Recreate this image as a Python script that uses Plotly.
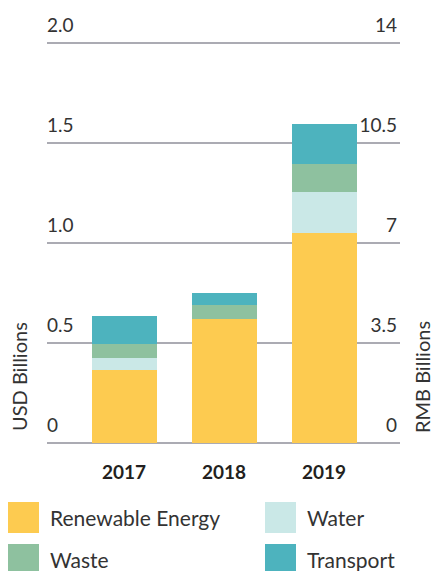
import plotly.graph_objects as go

# data (USD billions)
years = ["2017", "2018", "2019"]
renewable = [0.365, 0.62, 1.05]
water = [0.06, 0.0, 0.205]
waste = [0.072, 0.07, 0.14]
transport = [0.138, 0.058, 0.2]

series_names = ["Renewable Energy", "Water", "Waste", "Transport"]
series_colors = ["#FDCB50", "#CAE8E7", "#8EC19F", "#4DB3BE"]
usd_ticks = [0, 0.5, 1.0, 1.5, 2.0]
usd_labels = ["0", "0.5", "1.0", "1.5", "2.0"]
rmb_ticks = [0, 3.5, 7, 10.5, 14]
rmb_labels = ["0", "3.5", "7", "10.5", "14"]
usd_to_rmb = 7

W, H = 433, 571
Y_TOP = 2.15  # a bit of headroom so the "2.0" label isn't hidden
L = 47
R = W - 400
B = H - 443
PH = int(Y_TOP * 200)
T = H - B - PH
PW = W - L - R

FONT = "Lato"
TXT = "#333333"


def paper_x(px):
    return (px - L) / PW


def paper_y(py):
    return (H - B - py) / PH


fig = go.Figure()

for name, vals, col in zip(series_names, [renewable, water, waste, transport], series_colors):
    fig.add_trace(go.Bar(
        x=years, y=vals, name=name,
        marker=dict(color=col, line=dict(width=0)),
        width=0.65, showlegend=False,
    ))

# invisible trace so the RMB axis gets drawn
totals = [a + b + c + d for a, b, c, d in zip(renewable, water, waste, transport)]
fig.add_trace(go.Scatter(
    x=years, y=[t * usd_to_rmb for t in totals], yaxis="y2",
    mode="markers", marker=dict(opacity=0), hoverinfo="skip", showlegend=False,
))

# legend, drawn by hand to get the big swatches
legend_pos = [(8, 502), (265, 502), (8, 544), (265, 544)]
for (x0, y0), name, col in zip(legend_pos, series_names, series_colors):
    fig.add_shape(type="rect", xref="paper", yref="paper",
                  x0=paper_x(x0), x1=paper_x(x0 + 31),
                  y0=paper_y(y0), y1=paper_y(y0 + 31),
                  fillcolor=col, line=dict(width=0), layer="above")
    fig.add_annotation(text=name, xref="paper", yref="paper",
                       x=paper_x(x0 + 40), y=paper_y(y0 + 15),
                       xanchor="left", yanchor="middle", showarrow=False,
                       font=dict(family=FONT, size=21, color=TXT))

fig.add_annotation(text="USD Billions", xref="paper", yref="paper",
                   x=paper_x(19), y=paper_y(377), textangle=-90,
                   xanchor="center", yanchor="middle", showarrow=False,
                   font=dict(family=FONT, size=20, color=TXT))
fig.add_annotation(text="RMB Billions", xref="paper", yref="paper",
                   x=paper_x(422), y=paper_y(377), textangle=-90,
                   xanchor="center", yanchor="middle", showarrow=False,
                   font=dict(family=FONT, size=20, color=TXT))

fig.update_layout(
    width=W, height=H,
    margin=dict(l=L, r=R, t=T, b=B),
    barmode="stack",
    plot_bgcolor="white", paper_bgcolor="white",
    xaxis=dict(
        type="category", range=[-0.77, 2.76],
        showgrid=False, showline=False, zeroline=False, ticks="",
        tickfont=dict(family=FONT, size=19, color="#231F20", weight="bold"),
        ticklabelstandoff=16,
    ),
    yaxis=dict(
        range=[0, Y_TOP], tickvals=usd_ticks, ticktext=usd_labels,
        showgrid=True, gridcolor="#ABABB3", gridwidth=1.5,
        zeroline=True, zerolinecolor="#ABABB3", zerolinewidth=1.5,
        showline=False, ticks="",
        ticklabelposition="inside top", ticklabelstandoff=-3, ticklabelshift=-4,
        tickfont=dict(family=FONT, size=19, color=TXT),
    ),
    yaxis2=dict(
        range=[0, Y_TOP * usd_to_rmb], tickvals=rmb_ticks, ticktext=rmb_labels,
        overlaying="y", side="right",
        showgrid=False, zeroline=False, showline=False, ticks="",
        ticklabelposition="inside top", ticklabelshift=-4,
        tickfont=dict(family=FONT, size=19, color=TXT),
    ),
)

# the figure is exactly window-sized, so drop the default page margin
fig.write_html(
    "out.html",
    config={"displayModeBar": False},
    post_script="document.body.style.margin='0';document.body.style.overflow='hidden';",
)
